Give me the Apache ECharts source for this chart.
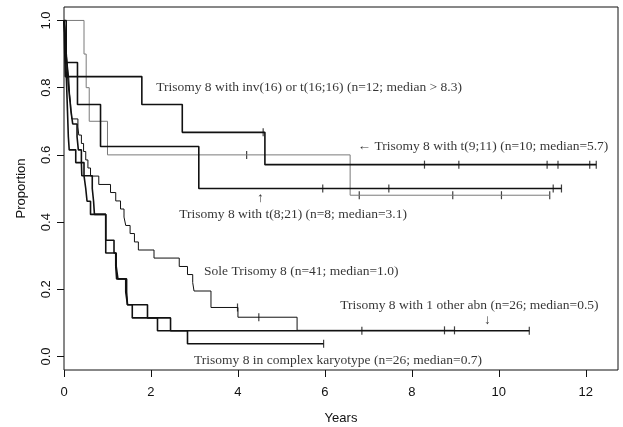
<!DOCTYPE html>
<html>
<head>
<meta charset="utf-8">
<title></title>
<script src="https://cdn.jsdelivr.net/npm/echarts@6/dist/echarts.min.js"></script>
</head>
<body style="margin:0;background:#fff;">
<div id="chart" style="width:623px;height:427px;"></div>
<script>
// step curves: [years, proportion after the step]
var inv16Steps = [[0,1],[0.03,0.833],[1.79,0.75],[2.72,0.667],[4.62,0.571],[12.24,0.571]];
var inv16Censor = [4.58, 8.29, 9.08, 11.11, 11.36, 12.09, 12.24];

var t911Steps = [[0,1],[0.46,0.9],[0.51,0.8],[0.58,0.7],[1.0,0.6],[6.58,0.48],[11.17,0.48]];
var t911Censor = [4.2, 6.79, 8.94, 10.06, 11.17];

var t821Steps = [[0,1],[0.05,0.875],[0.31,0.75],[0.84,0.625],[3.1,0.5],[11.44,0.5]];
var t821Censor = [5.95, 7.47, 11.25, 11.44];

var soleSteps = [[0,1],[0.02,0.976],[0.03,0.951],[0.04,0.927],[0.05,0.902],[0.07,0.878],[0.09,0.854],
  [0.11,0.829],[0.12,0.805],[0.13,0.78],[0.15,0.756],[0.16,0.732],[0.18,0.707],[0.32,0.683],[0.34,0.659],
  [0.4,0.634],[0.45,0.61],[0.5,0.585],[0.55,0.561],[0.61,0.537],[0.8,0.512],[1.07,0.488],[1.19,0.463],
  [1.3,0.439],[1.38,0.415],[1.42,0.39],[1.52,0.366],[1.62,0.341],[1.71,0.317],[2.07,0.293],[2.65,0.268],
  [2.84,0.244],[2.96,0.22],[2.99,0.195],[3.38,0.146],[4.0,0.117],[5.36,0.078],[8.98,0.078]];
var soleCensor = [3.99, 4.48, 8.75, 8.98];

var otherSteps = [[0,1],[0.02,0.962],[0.03,0.923],[0.04,0.885],[0.05,0.846],[0.06,0.808],[0.07,0.769],
  [0.08,0.731],[0.09,0.692],[0.1,0.654],[0.12,0.615],[0.27,0.577],[0.46,0.538],[0.5,0.5],[0.53,0.462],
  [0.61,0.423],[0.96,0.308],[1.19,0.269],[1.21,0.231],[1.44,0.192],[1.46,0.154],[1.57,0.115],[2.15,0.077],[10.7,0.077]];
var otherCensor = [6.85, 10.7];

var complexSteps = [[0,1],[0.02,0.962],[0.04,0.923],[0.06,0.885],[0.08,0.846],[0.1,0.808],[0.13,0.769],
  [0.16,0.731],[0.2,0.692],[0.3,0.654],[0.33,0.615],[0.4,0.577],[0.41,0.538],[0.65,0.5],[0.68,0.462],
  [0.7,0.423],[0.96,0.346],[1.15,0.308],[1.2,0.269],[1.24,0.231],[1.42,0.192],[1.46,0.154],[1.92,0.115],
  [2.45,0.077],[2.84,0.038],[5.97,0.038]];
var complexCensor = [5.97];

var xTicks = [0, 2, 4, 6, 8, 10, 12];
var yTicks = [0, 0.2, 0.4, 0.6, 0.8, 1.0];

// annotation texts, anchored at [years, proportion]
var notes = [
  ['Trisomy 8 with inv(16) or t(16;16) (n=12; median > 8.3)', 2.12, 0.80],
  ['\u2190 Trisomy 8 with t(9;11) (n=10; median=5.7)', 6.75, 0.625],
  ['\u2191', 4.44, 0.47],
  ['Trisomy 8 with t(8;21) (n=8; median=3.1)', 2.65, 0.422],
  ['Sole Trisomy 8 (n=41; median=1.0)', 3.22, 0.253],
  ['Trisomy 8 with 1 other abn (n=26; median=0.5)', 6.35, 0.151],
  ['\u2193', 9.66, 0.106],
  ['Trisomy 8 in complex karyotype (n=26; median=0.7)', 2.99, -0.012]
];

function survAt(steps, t) {
  var s = steps[0][1];
  for (var i = 0; i < steps.length; i++) {
    if (steps[i][0] <= t) s = steps[i][1];
  }
  return s;
}

var ink = '#111';
var serif = 'Liberation Serif';
var sans = 'Liberation Sans';

function curve(name, steps, width, color) {
  return {
    name: name, type: 'line', step: 'end', data: steps,
    showSymbol: false, animation: false, silent: true,
    lineStyle: {width: width, color: color}
  };
}
function ticks(steps, times, color) {
  return {
    type: 'scatter', animation: false, silent: true,
    symbol: 'rect', symbolSize: [1.2, 8],
    itemStyle: {color: color},
    data: times.map(function (t) { return [t, survAt(steps, t)]; })
  };
}

var option = {
  backgroundColor: '#fff',
  grid: {left: 64, right: 5, top: 7, bottom: 57, show: true, borderColor: ink, borderWidth: 1,
    outerBoundsMode: 'none', containLabel: false},
  xAxis: {
    type: 'value', min: 0, max: 12.74,
    name: 'Years', nameLocation: 'middle', nameGap: 42,
    nameTextStyle: {fontFamily: sans, fontSize: 13, color: ink},
    axisLine: {show: false, onZero: false},
    splitLine: {show: false},
    axisTick: {show: true, length: 7, customValues: xTicks, lineStyle: {color: ink}},
    axisLabel: {customValues: xTicks, margin: 16, fontFamily: sans, fontSize: 13, color: ink}
  },
  yAxis: {
    type: 'value', min: -0.04, max: 1.04,
    name: 'Proportion', nameLocation: 'middle', nameGap: 36, nameRotate: 90,
    nameTextStyle: {fontFamily: sans, fontSize: 13, color: ink},
    axisLine: {show: false, onZero: false},
    splitLine: {show: false},
    axisTick: {show: true, length: 7, customValues: yTicks, lineStyle: {color: ink}},
    axisLabel: {customValues: yTicks, rotate: 90, margin: 11, fontFamily: sans, fontSize: 13, color: ink,
      formatter: function (v) { return v.toFixed(1); }}
  },
  series: [
    curve('t911', t911Steps, 1, '#7a7a7a'),
    curve('inv16', inv16Steps, 1.6, ink),
    curve('t821', t821Steps, 1.6, ink),
    curve('sole', soleSteps, 1, ink),
    curve('other', otherSteps, 1.6, ink),
    curve('complex', complexSteps, 1.6, ink),
    ticks(inv16Steps, inv16Censor, ink),
    ticks(t911Steps, t911Censor, ink),
    ticks(t821Steps, t821Censor, ink),
    ticks(soleSteps, soleCensor, ink),
    ticks(otherSteps, otherCensor, ink),
    ticks(complexSteps, complexCensor, ink),
    {
      type: 'scatter', animation: false, silent: true, symbolSize: 0,
      data: notes.map(function (n) { return {value: [n[1], n[2]], name: n[0]}; }),
      label: {show: true, position: 'right', distance: 0, formatter: '{b}',
        fontFamily: serif, fontSize: 13.5, color: '#000'}
    }
  ]
};

var chart = echarts.init(document.getElementById('chart'), null, {renderer: 'canvas'});
chart.setOption(option);
</script>
</body>
</html>
